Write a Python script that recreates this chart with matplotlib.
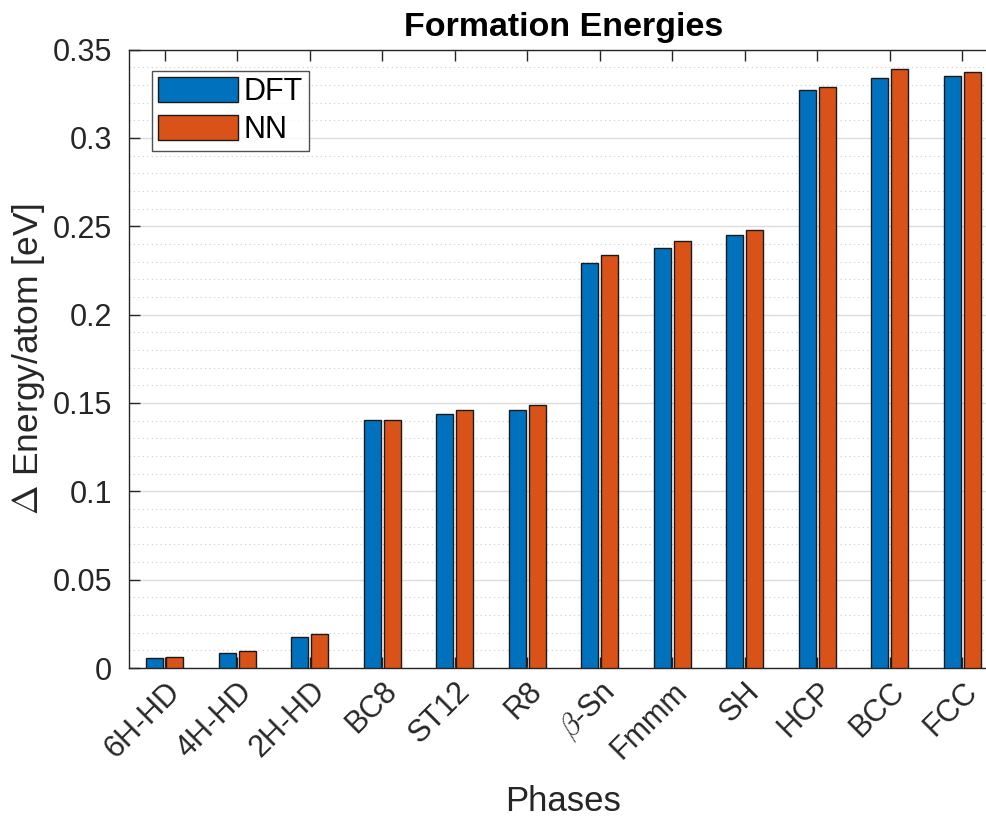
import matplotlib
matplotlib.use("Agg")
import matplotlib.pyplot as plt
import numpy as np

phases = ["6H-HD", "4H-HD", "2H-HD", "BC8", "ST12", "R8", r"$\beta$-Sn",
          "Fmmm", "SH", "HCP", "BCC", "FCC"]
dft = [0.0055, 0.0087, 0.0177, 0.1406, 0.1438, 0.1461, 0.2292, 0.2375,
       0.2448, 0.3273, 0.3340, 0.3349]
nn = [0.0062, 0.0094, 0.0193, 0.1406, 0.1461, 0.1486, 0.2337, 0.2418,
      0.2481, 0.3289, 0.3392, 0.3372]
yticks = [0, 0.05, 0.1, 0.15, 0.2, 0.25, 0.3, 0.35]
ytick_labels = ["0", "0.05", "0.1", "0.15", "0.2", "0.25", "0.3", "0.35"]

plt.rcParams['font.family'] = ['Liberation Sans', 'DejaVu Sans']
plt.rcParams['mathtext.fontset'] = 'cm'

W, H = 987, 823
fig = plt.figure(figsize=(W / 100, H / 100), dpi=100)
left, right_px = 128.5, 128.5 + 870
bottom, top = 668, 49.5
ax = fig.add_axes([left / W, 1 - bottom / H, (right_px - left) / W, (bottom - top) / H])

x = np.arange(1, len(phases) + 1)
bw = 0.235
off = 0.138
ax.bar(x - off, dft, bw, color="#0072BD", edgecolor="#1a1a1a", linewidth=1.0,
       label="DFT", zorder=3)
ax.bar(x + off, nn, bw, color="#D95319", edgecolor="#1a1a1a", linewidth=1.0,
       label="NN", zorder=3)

ax.set_xlim(0.5, 12.5)
ax.set_ylim(0, 0.35)
ax.set_yticks(yticks)
ax.set_yticklabels(ytick_labels)
ax.set_yticks(np.arange(0, 0.3501, 0.01), minor=True)
ax.set_xticks(x)
ax.set_xticklabels(phases, rotation=45, ha="right", va="top",
                   rotation_mode="anchor")

ax.grid(axis="y", which="major", color="#dcdcdc", linewidth=1.0, zorder=0)
ax.grid(axis="y", which="minor", color="#cccccc", linestyle=(0, (1, 3)),
        linewidth=0.8, zorder=0)
ax.set_axisbelow(True)

ax.tick_params(axis="both", which="major", direction="in", length=8,
               width=1, colors="#262626", labelsize=22, top=True)
ax.tick_params(axis="y", which="minor", left=False, right=False)
ax.tick_params(axis="x", which="minor", bottom=False, top=False)
ax.tick_params(axis="x", pad=6)
ax.tick_params(axis="y", pad=12)
for s in ax.spines.values():
    s.set_color("#262626")
    s.set_linewidth(1.0)

ax.set_title("Formation Energies", fontsize=24.5, fontweight="bold", pad=10)
ax.set_xlabel("Phases", fontsize=25, color="#262626", labelpad=15)
ax.set_ylabel(r"$\Delta$ Energy/atom [eV]", fontsize=25.5, color="#262626",
              labelpad=4)

leg = ax.legend(loc="upper left", bbox_to_anchor=(23.5 / 870, 1 - 21.5 / 618.5),
                fontsize=22, handlelength=2.6, handleheight=0.9,
                frameon=True, fancybox=False, borderpad=0.2,
                labelspacing=0.25, handletextpad=0.2, borderaxespad=0)
leg.get_frame().set_edgecolor("#262626")
leg.get_frame().set_linewidth(1.0)

fig.savefig("out.png", dpi=100)
